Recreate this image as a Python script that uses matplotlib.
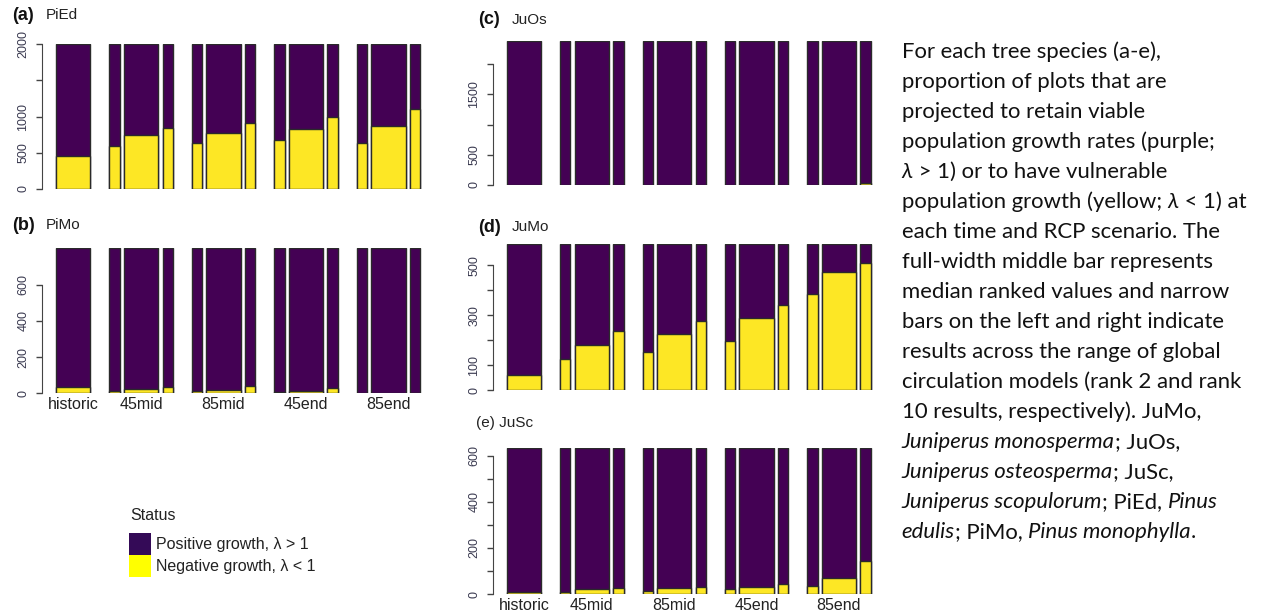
import numpy as np
import matplotlib
matplotlib.use('Agg')
import matplotlib.pyplot as plt
from matplotlib.patches import Rectangle

plt.rcParams['font.family'] = ['Liberation Sans', 'DejaVu Sans']

# data: number of plots with negative growth (yellow) per bar, and total plots
# bar order per scenario: rank 2, median, rank 10
scenarios = ['historic', '45mid', '85mid', '45end', '85end']

pied_total = 2000
pied_hist = 461
pied_neg = [[599, 742, 843], [636, 774, 908], [673, 825, 991], [636, 876, 1106]]

pimo_total = 804
pimo_hist = 33
pimo_neg = [[13, 26, 37], [13, 20, 40], [6, 12, 31], [0, 0, 4]]

juos_total = 2388
juos_hist = 0
juos_neg = [[0, 0, 0], [0, 0, 0], [0, 0, 0], [0, 0, 25]]

jumo_total = 584
jumo_hist = 61
jumo_neg = [[123, 182, 235], [152, 225, 278], [197, 289, 340], [384, 471, 509]]

jusc_total = 633
jusc_hist = 10
jusc_neg = [[9, 20, 26], [13, 26, 30], [20, 32, 45], [35, 71, 145]]

PURPLE = '#440154'
YELLOW = '#FDE725'

W, H = 1262, 616
fig = plt.figure(figsize=(W / 100, H / 100), dpi=100)

# bar layout (units of a wide bar)
wide, narrow, gap, ggap = 1.0, 0.3, 0.12, 0.55
scale = 34.47  # px per unit


def bar_positions():
    pos = [(0.0, wide)]
    x = wide
    for _ in range(4):
        x += ggap
        pos.append((x, narrow)); x += narrow + gap
        pos.append((x, wide)); x += wide + gap
        pos.append((x, narrow)); x += narrow
    return pos


def panel(left_px, y0_px, y1_px, total, hist, neg, ticks, labels, xlabels):
    ax = fig.add_axes([left_px / W, (H - y0_px) / H, 390 / W, (y0_px - y1_px) / H])
    pos = bar_positions()
    vals = [hist] + [v for grp in neg for v in grp]
    for (x, w), v in zip(pos, vals):
        ax.bar(x, total, width=w, align='edge', color=PURPLE, edgecolor='#2a2a2a', lw=1.0)
        if v > 0:
            ax.bar(x, v, width=w, align='edge', color=YELLOW, edgecolor='#2a2a2a', lw=1.0)
    ax.set_xlim(-14 / scale, (390 - 14) / scale)
    ax.set_ylim(0, total)
    for s in ['top', 'right', 'bottom']:
        ax.spines[s].set_visible(False)
    ax.spines['left'].set_bounds(ticks[0], ticks[-1])
    ax.spines['left'].set_color('#444444')
    ax.set_yticks(ticks)
    ax.set_yticklabels(labels)
    ax.tick_params(axis='y', labelrotation=90, length=4, width=1, color='#444444',
                   labelsize=9, labelcolor='#3a3a50', pad=5)
    for lab in ax.get_yticklabels():
        lab.set_va('center')
    if xlabels:
        centers = [pos[0][0] + wide / 2] + [pos[i * 3 + 2][0] + wide / 2 for i in range(4)]
        ax.set_xticks(centers)
        ax.set_xticklabels(scenarios, fontsize=11.5, color='#222222')
        ax.tick_params(axis='x', length=0, pad=3)
    else:
        ax.set_xticks([])
    ax.patch.set_visible(False)
    return ax


panel(42, 189, 44.3, pied_total, pied_hist, pied_neg,
      [0, 500, 1000, 1500, 2000], ['0', '500', '1000', '', '2000'], False)
panel(42, 393.3, 247.7, pimo_total, pimo_hist, pimo_neg,
      [0, 200, 400, 600], ['0', '200', '400', '600'], True)
panel(492.7, 185, 40.7, juos_total, juos_hist, juos_neg,
      [0, 500, 1000, 1500, 2000], ['0', '500', '', '1500', ''], False)
panel(492.7, 390, 244.3, jumo_total, jumo_hist, jumo_neg,
      [0, 100, 200, 300, 400, 500], ['0', '100', '', '300', '', '500'], False)
panel(492.7, 594, 448.3, jusc_total, jusc_hist, jusc_neg,
      [0, 100, 200, 300, 400, 500, 600], ['0', '', '200', '', '400', '', '600'], True)


def fx(px):
    return px / W


def fy(py):
    return (H - py) / H


# panel titles
for lab, name, x, y in [('(a)', 'PiEd', 12, 15), ('(b)', 'PiMo', 12, 225),
                        ('(c)', 'JuOs', 478, 20), ('(d)', 'JuMo', 478, 227)]:
    fig.text(fx(x), fy(y), lab, fontsize=13, fontweight='bold', va='center', color='#111111')
    fig.text(fx(x + 34), fy(y), name, fontsize=11, va='center', color='#222222')
fig.text(fx(476), fy(423), '(e) JuSc', fontsize=11, va='center', color='#222222')

# legend
fig.text(fx(130), fy(516), 'Status', fontsize=11.5, va='center', color='#222222')
fig.patches.append(Rectangle((fx(129.3), fy(555)), fx(22), 22 / H, transform=fig.transFigure,
                             facecolor='#340a57', edgecolor='none'))
fig.patches.append(Rectangle((fx(129.3), fy(577.3)), fx(22), 22 / H, transform=fig.transFigure,
                             facecolor='#FFFF00', edgecolor='none'))
fig.text(fx(156), fy(544), 'Positive growth, λ > 1', fontsize=11.5, va='center', color='#222222')
fig.text(fx(156), fy(567), 'Negative growth, λ < 1', fontsize=11.5, va='center', color='#222222')

# caption with mixed italic segments
caption = [
    [('For each tree species (a-e),', 'normal')],
    [('proportion of plots that are', 'normal')],
    [('projected to retain viable', 'normal')],
    [('population growth rates (purple;', 'normal')],
    [('λ', 'italic'), (' > 1) or to have vulnerable', 'normal')],
    [('population growth (yellow; ', 'normal'), ('λ', 'italic'), (' < 1) at', 'normal')],
    [('each time and RCP scenario. The', 'normal')],
    [('full-width middle bar represents', 'normal')],
    [('median ranked values and narrow', 'normal')],
    [('bars on the left and right indicate', 'normal')],
    [('results across the range of global', 'normal')],
    [('circulation models (rank 2 and rank', 'normal')],
    [('10 results, respectively). JuMo,', 'normal')],
    [('Juniperus monosperma', 'italic'), ('; JuOs,', 'normal')],
    [('Juniperus osteosperma', 'italic'), ('; JuSc,', 'normal')],
    [('Juniperus scopulorum', 'italic'), ('; PiEd, ', 'normal'), ('Pinus', 'italic')],
    [('edulis', 'italic'), ('; PiMo, ', 'normal'), ('Pinus monophylla', 'italic'), ('.', 'normal')],
]

renderer = fig.canvas.get_renderer()
cap_font = ['Lato', 'DejaVu Sans']
for i, line in enumerate(caption):
    x = 901.7
    y = 51.7 + 30 * i
    for txt, style in line:
        t = fig.text(fx(x), fy(y), txt, fontsize=15.9, family=cap_font, style=style,
                     va='center', ha='left', color='#111111')
        bb = t.get_window_extent(renderer=renderer)
        x += bb.width

fig.savefig('out.png', dpi=100)
